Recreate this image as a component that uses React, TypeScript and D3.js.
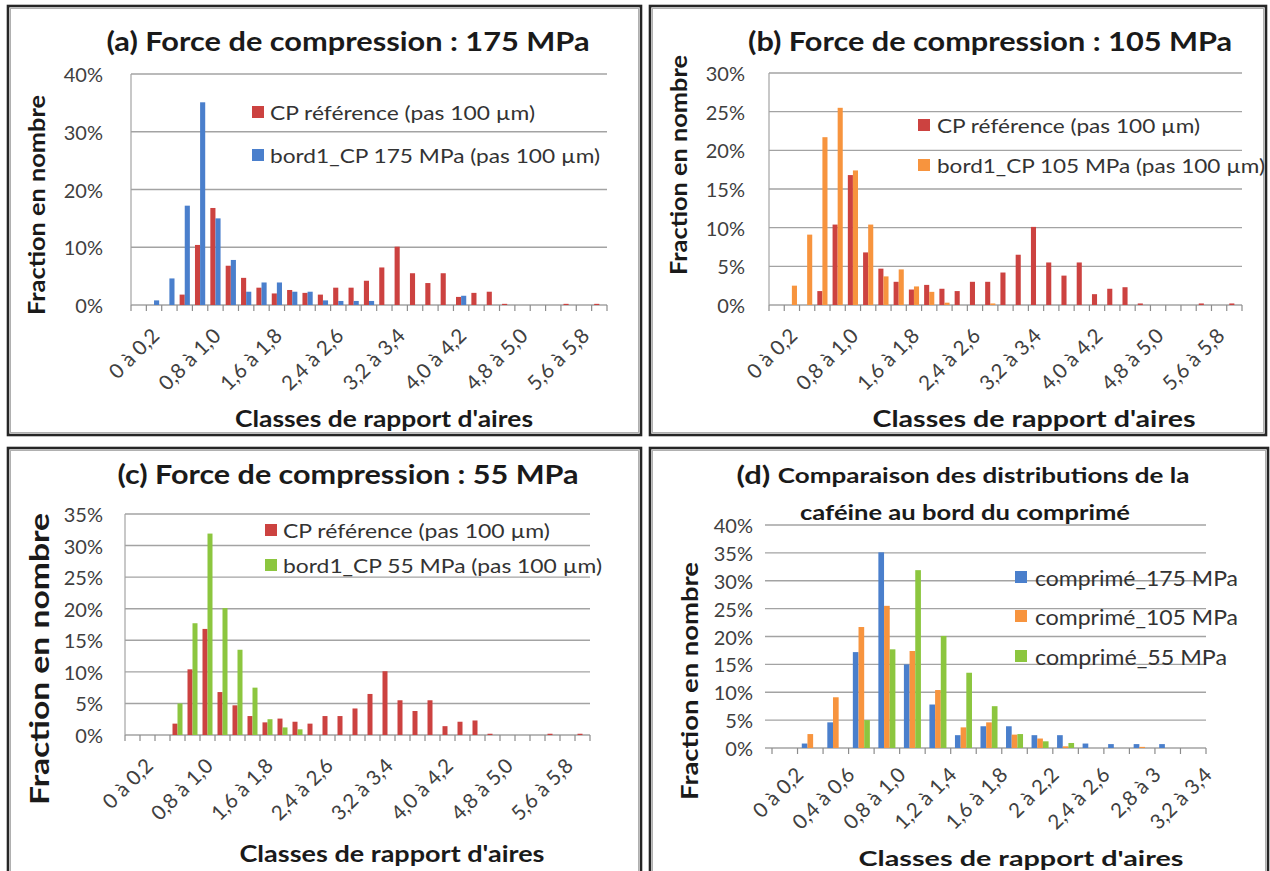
import React from 'react';
import * as d3 from 'd3';

// ---------- DATA ----------
const CATEGORIES = [
  "0 à 0,2", "0,2 à 0,4", "0,4 à 0,6", "0,6 à 0,8", "0,8 à 1,0", "1,0 à 1,2", "1,2 à 1,4", "1,4 à 1,6",
  "1,6 à 1,8", "1,8 à 2,0", "2,0 à 2,2", "2,2 à 2,4", "2,4 à 2,6", "2,6 à 2,8", "2,8 à 3,0", "3,0 à 3,2",
  "3,2 à 3,4", "3,4 à 3,6", "3,6 à 3,8", "3,8 à 4,0", "4,0 à 4,2", "4,2 à 4,4", "4,4 à 4,6", "4,6 à 4,8",
  "4,8 à 5,0", "5,0 à 5,2", "5,2 à 5,4", "5,4 à 5,6", "5,6 à 5,8", "5,8 à 6,0", "6,0 à 6,2",
];
const CATEGORIES_D = [
  "0 à 0,2", "0,2 à 0,4", "0,4 à 0,6", "0,6 à 0,8", "0,8 à 1,0", "1 à 1,2", "1,2 à 1,4", "1,4 à 1,6",
  "1,6 à 1,8", "1,8 à 2", "2 à 2,2", "2,2 à 2,4", "2,4 à 2,6", "2,6 à 2,8", "2,8 à 3", "3 à 3,2", "3,2 à 3,4",
];
// values in %
const CP_REFERENCE = [0, 0, 0, 1.8, 10.4, 16.8, 6.8, 4.7, 3.0, 2.0, 2.6, 2.1, 1.8, 3.0, 3.0, 4.2, 6.5, 10.1, 5.5, 3.8, 5.5, 1.4, 2.1, 2.3, 0.2, 0, 0, 0, 0.2, 0, 0.2];
const BORD_175 = [0, 0.8, 4.6, 17.2, 35.1, 15.0, 7.8, 2.3, 3.9, 3.9, 2.3, 2.3, 0.8, 0.7, 0.7, 0.7, 0, 0, 0, 0, 0, 1.6, 0, 0, 0, 0, 0, 0, 0, 0, 0];
const BORD_105 = [0, 2.5, 9.1, 21.7, 25.5, 17.4, 10.4, 3.7, 4.6, 2.4, 1.7, 0.3, 0, 0, 0.2, 0, 0, 0, 0, 0, 0, 0, 0, 0, 0, 0, 0, 0, 0, 0, 0];
const BORD_55 = [0, 0, 0, 5.0, 17.7, 31.9, 20.1, 13.5, 7.5, 2.5, 1.2, 0.9, 0, 0, 0, 0, 0, 0, 0, 0, 0, 0, 0, 0, 0, 0, 0, 0, 0, 0, 0];

const RED = "#cc4240";
const BLUE = "#4a7fcc";
const ORANGE = "#f7943e";
const GREEN = "#8cc63f";

const FONT = "Lato, 'Open Sans', sans-serif";

type Series = { name: string; color: string; values: number[] };

type PanelProps = {
  frame: [number, number, number, number];
  x0: number; x1: number; gridX0?: number;
  y0: number; yTop: number; yMax: number; yStep: number;
  yLabelRight: number;
  yAxisLine: boolean;
  cats: string[];
  series: Series[];
  outerPad: number;
  labelEvery: number;
  labelDx: number; labelDy: number;
  title: React.ReactNode;
  yTitle: { x: number; y: number; len: number; size: number };
  xTitle: { x: number; y: number; len: number; size: number };
  legend: { sx: number; tx: number; ys: number[]; lens: number[]; size: number; labels: string[] };
};

function Panel(p: PanelProps) {
  const n = p.cats.length;
  const xBand = d3.scaleBand<number>().domain(d3.range(n)).range([p.x0, p.x1]).paddingInner(0).paddingOuter(0);
  const inner = d3.scaleBand<number>().domain(d3.range(p.series.length)).range([0, xBand.step()]).paddingInner(0).paddingOuter(p.outerPad);
  const y = d3.scaleLinear().domain([0, p.yMax]).range([p.y0, p.yTop]);
  const ticks = d3.range(0, p.yMax + 0.001, p.yStep);
  const gx0 = p.gridX0 ?? p.x0;
  const [fx, fy, fw, fh] = p.frame;
  return (
    <g>
      <rect x={fx} y={fy} width={fw} height={fh} fill="white" stroke="#262626" strokeWidth={2.6} />
      <rect x={fx + 2.5} y={fy + 2.5} width={fw - 5} height={fh - 5} fill="none" stroke="#b0b0b0" strokeWidth={1} />
      {ticks.map((t) => (
        <line key={"g" + t} x1={gx0} x2={p.x1} y1={y(t)} y2={y(t)} stroke="#a3a3a3" strokeWidth={1.4} />
      ))}
      {p.yAxisLine && <line x1={p.x0} x2={p.x0} y1={p.yTop} y2={p.y0} stroke="#a3a3a3" strokeWidth={1.2} />}
      {d3.range(n + 1).map((i) => {
        const xx = p.x0 + i * xBand.step();
        return <line key={"t" + i} x1={xx} x2={xx} y1={p.y0} y2={p.y0 + 6} stroke="#8c8c8c" strokeWidth={1.2} />;
      })}
      {p.series.map((s, si) => (
        <g key={s.name}>
          {s.values.slice(0, n).map((v, i) =>
            v > 0 ? (
              <rect key={i} x={(xBand(i) as number) + (inner(si) as number)} width={inner.bandwidth()}
                y={y(v)} height={p.y0 - y(v)} fill={s.color} />
            ) : null
          )}
        </g>
      ))}
      {ticks.map((t) => (
        <text key={"yl" + t} x={p.yLabelRight} y={y(t)} textAnchor="end" dominantBaseline="central"
          fontFamily={FONT} fontSize={20} fill="#404040">{`${t}%`}</text>
      ))}
      {p.cats.map((c, i) => i % p.labelEvery === 0 ? (
        <text key={"xl" + i} transform={`translate(${(xBand(i) as number) + xBand.bandwidth() / 2 + p.labelDx},${p.y0 + p.labelDy}) rotate(-45)`}
          textAnchor="end" fontFamily={FONT} fontSize={20.5} fill="#404040">{c}</text>
      ) : null)}
      {p.title}
      <text transform={`translate(${p.yTitle.x},${p.yTitle.y}) rotate(-90)`} textAnchor="middle" dominantBaseline="central"
        fontFamily={FONT} fontWeight="bold" fontSize={p.yTitle.size} fill="#1a1a1a"
        textLength={p.yTitle.len} lengthAdjust="spacingAndGlyphs">Fraction en nombre</text>
      <text x={p.xTitle.x} y={p.xTitle.y} textAnchor="middle" dominantBaseline="central"
        fontFamily={FONT} fontWeight="bold" fontSize={p.xTitle.size} fill="#1a1a1a"
        textLength={p.xTitle.len} lengthAdjust="spacingAndGlyphs">Classes de rapport d'aires</text>
      {p.series.map((s, si) => (
        <g key={"lg" + si}>
          <rect x={p.legend.sx} y={p.legend.ys[si] - 6} width={12} height={12} fill={s.color} />
          <text x={p.legend.tx} y={p.legend.ys[si]} dominantBaseline="central" fontFamily={FONT}
            fontSize={p.legend.size} fill="#333" textLength={p.legend.lens[si]} lengthAdjust="spacingAndGlyphs">
            {p.legend.labels[si]}
          </text>
        </g>
      ))}
    </g>
  );
}

function Title({ x, y, len, size, text }: { x: number; y: number; len: number; size: number; text: string }) {
  return (
    <text x={x} y={y} textAnchor="middle" dominantBaseline="central" fontFamily={FONT} fontWeight="bold"
      fontSize={size} fill="#1a1a1a" textLength={len} lengthAdjust="spacingAndGlyphs">{text}</text>
  );
}

export default function App() {
  return (
    <svg width={1270} height={871} style={{ position: 'absolute', left: 0, top: 0, background: 'white' }}>
      <rect width={1270} height={871} fill="white" />
      <Panel
        frame={[8, 6, 633, 429]}
        x0={131} x1={607} y0={305} yTop={74} yMax={40} yStep={10} yLabelRight={103} yAxisLine={true}
        cats={CATEGORIES}
        series={[{ name: "ref", color: RED, values: CP_REFERENCE }, { name: "b175", color: BLUE, values: BORD_175 }]}
        outerPad={0.5} labelEvery={4} labelDx={22} labelDy={32}
        title={<Title x={348} y={41} len={483} size={26} text="(a) Force de compression : 175 MPa" />}
        yTitle={{ x: 36, y: 205, len: 220, size: 22 }}
        xTitle={{ x: 384, y: 418, len: 298, size: 22 }}
        legend={{ sx: 252, tx: 270, ys: [112, 155], lens: [265, 330], size: 20,
          labels: ["CP référence (pas 100 µm)", "bord1_CP 175 MPa (pas 100 µm)"] }}
      />
      <Panel
        frame={[650, 6, 616, 429]}
        x0={769} x1={1242} y0={305} yTop={73} yMax={30} yStep={5} yLabelRight={745} yAxisLine={true}
        cats={CATEGORIES}
        series={[{ name: "ref", color: RED, values: CP_REFERENCE }, { name: "b105", color: ORANGE, values: BORD_105 }]}
        outerPad={0.5} labelEvery={4} labelDx={22} labelDy={32}
        title={<Title x={990} y={41} len={484} size={26} text="(b) Force de compression : 105 MPa" />}
        yTitle={{ x: 678, y: 165, len: 220, size: 22 }}
        xTitle={{ x: 1034, y: 418, len: 323, size: 23 }}
        legend={{ sx: 918, tx: 937, ys: [125, 165], lens: [263, 328], size: 20,
          labels: ["CP référence (pas 100 µm)", "bord1_CP 105 MPa (pas 100 µm)"] }}
      />
      <Panel
        frame={[8, 448, 633, 440]}
        x0={125} x1={590} y0={735} yTop={514} yMax={35} yStep={5} yLabelRight={103} yAxisLine={true}
        cats={CATEGORIES}
        series={[{ name: "ref", color: RED, values: CP_REFERENCE }, { name: "b55", color: GREEN, values: BORD_55 }]}
        outerPad={0.5} labelEvery={4} labelDx={22} labelDy={32}
        title={<Title x={348} y={474} len={461} size={26} text="(c) Force de compression : 55 MPa" />}
        yTitle={{ x: 38, y: 659, len: 292, size: 27 }}
        xTitle={{ x: 392, y: 853, len: 305, size: 23 }}
        legend={{ sx: 265, tx: 283, ys: [530, 565], lens: [267, 319], size: 20,
          labels: ["CP référence (pas 100 µm)", "bord1_CP 55 MPa (pas 100 µm)"] }}
      />
      <Panel
        frame={[650, 448, 618, 440]}
        x0={772} x1={1206} gridX0={765} y0={748} yTop={525} yMax={40} yStep={5} yLabelRight={753} yAxisLine={false}
        cats={CATEGORIES_D}
        series={[
          { name: "c175", color: BLUE, values: BORD_175 },
          { name: "c105", color: ORANGE, values: BORD_105 },
          { name: "c55", color: GREEN, values: BORD_55 },
        ]}
        outerPad={0.75} labelEvery={2} labelDx={20} labelDy={28}
        title={
          <g>
            <text x={963} y={474} textAnchor="middle" dominantBaseline="central" fontFamily={FONT} fontWeight="bold"
              fill="#1a1a1a" textLength={453} lengthAdjust="spacingAndGlyphs">
              <tspan fontSize={25}>(d) </tspan><tspan fontSize={21}>Comparaison des distributions de la</tspan>
            </text>
            <Title x={965} y={511} len={330} size={21} text="caféine au bord du comprimé" />
          </g>
        }
        yTitle={{ x: 689, y: 681, len: 238, size: 22 }}
        xTitle={{ x: 1021, y: 858, len: 325, size: 20 }}
        legend={{ sx: 1015, tx: 1035, ys: [577, 616, 656], lens: [203, 203, 192], size: 21,
          labels: ["comprimé_175 MPa", "comprimé_105 MPa", "comprimé_55 MPa"] }}
      />
    </svg>
  );
}
